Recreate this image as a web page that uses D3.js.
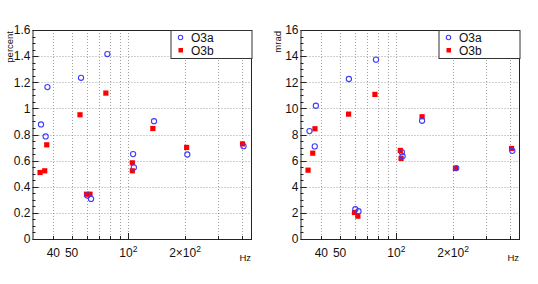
<!DOCTYPE html>
<html><head><meta charset="utf-8">
<script src="https://cdn.jsdelivr.net/npm/d3@7"></script>
<style>body{margin:0;background:#fff}svg{display:block}text{font-family:"Liberation Sans",Arial,sans-serif}</style>
</head><body>
<script>
// Left panel (percent)
const freqA_L = [34.4, 36.4, 37.2, 56.1, 60.6, 63.4, 77.4, 106, 107, 136.9, 205.7, 409];
const valA_L  = [0.877, 0.785, 1.163, 1.234, 0.333, 0.307, 1.416, 0.65, 0.548, 0.902, 0.647, 0.711];
const freqB_L = [34, 36, 36.9, 55.4, 60, 62.6, 76, 105, 105, 135, 204, 404];
const valB_L  = [0.509, 0.522, 0.721, 0.951, 0.343, 0.343, 1.117, 0.583, 0.522, 0.846, 0.701, 0.728];
// Right panel (mrad)
const freqA_R = [34.6, 36.9, 37.4, 56, 60.6, 63, 78, 107, 108, 137, 208, 413];
const valA_R  = [8.26, 7.09, 10.2, 12.25, 2.28, 2.13, 13.73, 6.65, 6.34, 9.05, 5.43, 6.75];
const freqB_R = [34, 36, 37, 55.8, 60, 62.5, 77, 105, 106, 137, 206, 409];
const valB_R  = [5.27, 6.57, 8.44, 9.56, 2.03, 1.75, 11.07, 6.78, 6.17, 9.36, 5.4, 6.93];

const seriesNames = ["O3a", "O3b"];
const xDomain = [31.0, 448];
const xGridTicks = [40, 50, 60, 70, 80, 90, 100, 200, 300, 400];
const xLabelTicks = [40, 50, 100, 200];
const xLabelText = {40: ["40"], 50: ["50"], 100: ["10", "2"], 200: ["2\u00d710", "2"]};
const yTicksL = [0, 0.2, 0.4, 0.6, 0.8, 1, 1.2, 1.4, 1.6];
const yTicksR = [0, 2, 4, 6, 8, 10, 12, 14, 16];

const W = 538, H = 284;
const svg = d3.select("body").append("svg").attr("width", W).attr("height", H);

function panel(left, right, yMax, yTicks, yMinorStep, yTitle, fa, va, fb, vb) {
  const top = 30, bottom = 239;
  const x = d3.scaleLog().domain(xDomain).range([left, right]);
  const y = d3.scaleLinear().domain([0, yMax]).range([bottom, top]);
  const g = svg.append("g");
  // grid
  g.selectAll(".gx").data(xGridTicks).join("line")
    .attr("x1", d => Math.round(x(d)) + 0.5).attr("x2", d => Math.round(x(d)) + 0.5)
    .attr("y1", top).attr("y2", bottom)
    .attr("stroke", "#888").attr("stroke-width", 0.8).attr("stroke-dasharray", "1,2");
  g.selectAll(".gy").data(yTicks.slice(1, -1)).join("line")
    .attr("x1", left).attr("x2", right)
    .attr("y1", d => Math.round(y(d)) + 0.5).attr("y2", d => Math.round(y(d)) + 0.5)
    .attr("stroke", "#888").attr("stroke-width", 0.8).attr("stroke-dasharray", "1,2");
  // minor y ticks
  const minor = d3.range(0, yMax + 1e-9, yMinorStep);
  g.selectAll(".my").data(minor).join("line")
    .attr("x1", left).attr("x2", d => left + (yTicks.some(t => Math.abs(t - d) < 1e-6) ? 6 : 3))
    .attr("y1", d => Math.round(y(d)) + 0.5).attr("y2", d => Math.round(y(d)) + 0.5)
    .attr("stroke", "#222").attr("stroke-width", 1);
  // x ticks
  g.selectAll(".tx").data(xGridTicks).join("line")
    .attr("x1", d => Math.round(x(d)) + 0.5).attr("x2", d => Math.round(x(d)) + 0.5)
    .attr("y1", bottom).attr("y2", d => bottom - (d === 100 ? 6 : 3))
    .attr("stroke", "#222").attr("stroke-width", 1);
  // frame
  g.append("rect").attr("x", left + 0.5).attr("y", top + 0.5)
    .attr("width", right - left).attr("height", bottom - top)
    .attr("fill", "none").attr("stroke", "#222").attr("stroke-width", 1);
  // y labels
  g.selectAll(".ly").data(yTicks).join("text")
    .attr("x", left - 2).attr("y", d => y(d) + 4.3)
    .attr("text-anchor", "end").attr("font-size", 12).attr("fill", "#111")
    .text(d => String(d));
  // x labels
  xLabelTicks.forEach(t => {
    const parts = xLabelText[t];
    const tx = g.append("text").attr("x", x(t)).attr("y", 256.5)
      .attr("text-anchor", "middle").attr("font-size", 12).attr("fill", "#111");
    tx.append("tspan").text(parts[0]);
    if (parts[1]) tx.append("tspan").attr("dy", -4.5).attr("font-size", 8.5).text(parts[1]);
  });
  // axis titles
  g.append("text").attr("x", right).attr("y", 260.5).attr("text-anchor", "end")
    .attr("font-size", 9.5).attr("fill", "#111").text("Hz");
  g.append("text").attr("transform", `translate(${left - 20},${top + 1}) rotate(-90)`)
    .attr("text-anchor", "end").attr("font-size", 9.5).attr("fill", "#111").text(yTitle);
  // points
  const clip = "clip" + left;
  svg.append("clipPath").attr("id", clip).append("rect")
    .attr("x", left).attr("y", top).attr("width", right - left + 1).attr("height", bottom - top + 1);
  const pg = g.append("g").attr("clip-path", `url(#${clip})`);
  pg.selectAll(".pb").data(d3.zip(fb, vb)).join("rect")
    .attr("x", d => x(d[0]) - 2.6).attr("y", d => y(d[1]) - 2.6)
    .attr("width", 5.2).attr("height", 5.2).attr("fill", "#ff0000");
  pg.selectAll(".pa").data(d3.zip(fa, va)).join("circle")
    .attr("cx", d => x(d[0])).attr("cy", d => y(d[1])).attr("r", 2.6)
    .attr("fill", "none").attr("stroke", "#3d3dff").attr("stroke-width", 1.1);
  // legend
  const lx = left + 138, ly = top, lw = right - left - 138 + 0.5, lh = 28;
  g.append("rect").attr("x", lx + 0.5).attr("y", ly + 0.5).attr("width", lw).attr("height", lh)
    .attr("fill", "#fff").attr("stroke", "#333").attr("stroke-width", 1);
  g.append("circle").attr("cx", lx + 10).attr("cy", ly + 7.5).attr("r", 2.2)
    .attr("fill", "none").attr("stroke", "#3d3dff").attr("stroke-width", 1.1);
  g.append("rect").attr("x", lx + 8).attr("y", ly + 18).attr("width", 4.5).attr("height", 4.5)
    .attr("fill", "#ff0000");
  g.append("text").attr("x", lx + 20.5).attr("y", ly + 12.3).attr("font-size", 12).attr("fill", "#111").text(seriesNames[0]);
  g.append("text").attr("x", lx + 20.5).attr("y", ly + 25).attr("font-size", 12).attr("fill", "#111").text(seriesNames[1]);
}

panel(32.5, 251, 1.6, yTicksL, 0.05, "percent", freqA_L, valA_L, freqB_L, valB_L);
panel(300.5, 519, 16, yTicksR, 0.5, "mrad", freqA_R, valA_R, freqB_R, valB_R);
</script>
</body></html>
